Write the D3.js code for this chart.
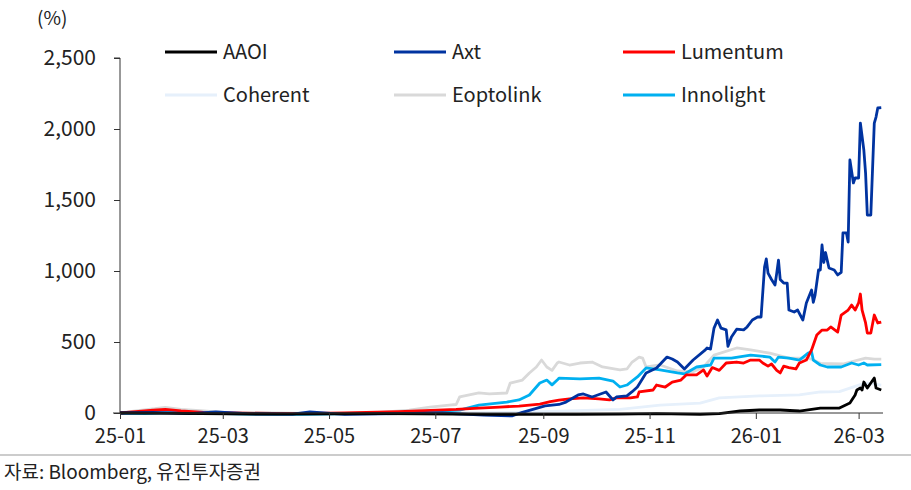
<!DOCTYPE html>
<html>
<head>
<meta charset="utf-8">
<script src="https://cdn.jsdelivr.net/npm/d3@7"></script>
<style>
  body { margin: 0; background: #fff; }
  text { font-family: "Noto Sans CJK KR", "Noto Sans", sans-serif; fill: #222; }
</style>
</head>
<body>
<script>
// index (%) series, [date, value]
var aaoi = [["2025-01-01",0],["2025-02-01",-3],["2025-04-01",-8],["2025-06-01",-5],["2025-08-01",-10],["2025-09-20",-10],["2025-10-15",-8],["2025-11-05",-5],["2025-11-30",-10],["2025-12-11",-5],["2025-12-23",14],["2026-01-03",21],["2026-01-15",21],["2026-01-26",14],["2026-02-07",35],["2026-02-18",35],["2026-02-24",70],["2026-02-27",127],["2026-02-28",162],["2026-03-02",176],["2026-03-03",162],["2026-03-04",218],["2026-03-06",176],["2026-03-08",211],["2026-03-10",246],["2026-03-11",176],["2026-03-14",162]];

var axt = [["2025-01-01",0],["2025-01-20",5],["2025-02-10",-5],["2025-02-25",8],["2025-03-15",-5],["2025-04-10",-8],["2025-04-20",8],["2025-05-10",-10],["2025-06-10",-5],["2025-07-05",0],["2025-07-20",-10],["2025-07-29",-15],["2025-08-14",-20],["2025-08-20",5],["2025-09-02",50],["2025-09-10",60],["2025-09-14",77],["2025-09-21",127],["2025-09-24",134],["2025-09-29",113],["2025-10-07",148],["2025-10-09",120],["2025-10-11",92],["2025-10-13",113],["2025-10-19",120],["2025-10-22",150],["2025-10-25",183],["2025-10-30",282],["2025-11-05",317],["2025-11-11",394],["2025-11-14",380],["2025-11-17",359],["2025-11-21",310],["2025-11-26",373],["2025-12-03",444],["2025-12-04",458],["2025-12-06",450],["2025-12-08",598],["2025-12-10",655],["2025-12-12",598],["2025-12-15",585],["2025-12-16",470],["2025-12-18",535],["2025-12-21",590],["2025-12-25",585],["2025-12-27",606],["2025-12-30",655],["2026-01-02",676],["2026-01-04",676],["2026-01-06",1028],["2026-01-07",1085],["2026-01-08",985],["2026-01-10",940],["2026-01-12",901],["2026-01-13",985],["2026-01-14",1077],["2026-01-15",940],["2026-01-17",915],["2026-01-19",915],["2026-01-20",725],["2026-01-23",711],["2026-01-25",725],["2026-01-28",655],["2026-01-30",775],["2026-02-02",866],["2026-02-03",780],["2026-02-04",830],["2026-02-06",1007],["2026-02-07",1007],["2026-02-08",1183],["2026-02-09",1060],["2026-02-10",1130],["2026-02-12",1021],["2026-02-15",1007],["2026-02-17",972],["2026-02-19",990],["2026-02-20",1268],["2026-02-22",1268],["2026-02-23",1204],["2026-02-24",1782],["2026-02-26",1620],["2026-02-27",1655],["2026-03-01",1655],["2026-03-02",2042],["2026-03-04",1852],["2026-03-05",1690],["2026-03-06",1394],["2026-03-08",1394],["2026-03-10",2042],["2026-03-11",2084],["2026-03-12",2148],["2026-03-14",2150]];

var lumentum = [["2025-01-01",0],["2025-01-10",10],["2025-01-20",20],["2025-01-27",25],["2025-02-05",15],["2025-02-18",5],["2025-03-05",0],["2025-04-10",-5],["2025-05-10",0],["2025-06-10",10],["2025-07-13",25],["2025-07-26",35],["2025-08-07",42],["2025-08-18",49],["2025-08-30",63],["2025-09-05",80],["2025-09-10",90],["2025-09-16",99],["2025-09-24",106],["2025-10-03",100],["2025-10-09",92],["2025-10-13",106],["2025-10-21",106],["2025-10-25",113],["2025-10-26",148],["2025-11-03",162],["2025-11-05",197],["2025-11-10",183],["2025-11-14",218],["2025-11-19",232],["2025-11-22",268],["2025-11-28",268],["2025-12-02",303],["2025-12-04",260],["2025-12-07",320],["2025-12-11",300],["2025-12-15",352],["2025-12-21",359],["2025-12-25",352],["2025-12-29",373],["2026-01-03",373],["2026-01-05",352],["2026-01-08",330],["2026-01-10",345],["2026-01-13",300],["2026-01-15",282],["2026-01-17",330],["2026-01-20",320],["2026-01-24",310],["2026-01-26",352],["2026-01-30",373],["2026-02-02",444],["2026-02-05",549],["2026-02-08",584],["2026-02-11",584],["2026-02-13",606],["2026-02-17",570],["2026-02-19",690],["2026-02-23",725],["2026-02-25",760],["2026-02-27",725],["2026-03-01",775],["2026-03-02",838],["2026-03-03",725],["2026-03-05",634],["2026-03-06",563],["2026-03-08",563],["2026-03-10",690],["2026-03-12",634],["2026-03-14",640]];

var coherent = [["2025-01-01",0],["2025-02-01",5],["2025-03-01",0],["2025-05-01",-5],["2025-07-01",0],["2025-08-15",5],["2025-09-15",15],["2025-10-15",25],["2025-11-07",56],["2025-11-30",70],["2025-12-11",106],["2026-01-03",120],["2026-01-26",127],["2026-02-07",148],["2026-02-18",150],["2026-03-02",200],["2026-03-06",211],["2026-03-14",197]];

var eoptolink = [["2025-01-01",0],["2025-01-10",15],["2025-01-21",30],["2025-01-27",40],["2025-02-05",25],["2025-02-18",15],["2025-03-01",5],["2025-04-01",0],["2025-05-01",-5],["2025-05-30",5],["2025-06-16",20],["2025-06-28",42],["2025-07-09",56],["2025-07-13",60],["2025-07-15",113],["2025-07-26",141],["2025-08-01",134],["2025-08-11",141],["2025-08-13",211],["2025-08-20",232],["2025-08-24",282],["2025-08-28",324],["2025-08-31",373],["2025-09-03",324],["2025-09-06",300],["2025-09-09",352],["2025-09-10",359],["2025-09-16",338],["2025-09-22",352],["2025-09-29",359],["2025-10-05",324],["2025-10-15",303],["2025-10-19",310],["2025-10-22",359],["2025-10-26",394],["2025-10-28",387],["2025-10-30",324],["2025-11-07",338],["2025-11-17",296],["2025-11-26",290],["2025-12-02",324],["2025-12-08",408],["2025-12-21",458],["2025-12-29",444],["2026-01-09",422],["2026-01-20",387],["2026-01-31",387],["2026-02-03",373],["2026-02-07",350],["2026-02-20",345],["2026-03-05",387],["2026-03-10",380],["2026-03-14",380]];

var innolight = [["2025-01-01",0],["2025-01-15",-5],["2025-02-01",5],["2025-02-18",0],["2025-03-15",-8],["2025-04-15",-10],["2025-05-15",-5],["2025-06-10",0],["2025-07-15",20],["2025-07-26",56],["2025-08-11",77],["2025-08-18",92],["2025-08-24",127],["2025-08-30",211],["2025-09-03",232],["2025-09-06",198],["2025-09-09",232],["2025-09-10",246],["2025-09-22",240],["2025-10-03",246],["2025-10-11",225],["2025-10-15",183],["2025-10-19",197],["2025-10-25",254],["2025-10-30",317],["2025-11-07",303],["2025-11-17",282],["2025-11-21",275],["2025-11-28",324],["2025-12-06",338],["2025-12-08",387],["2025-12-18",387],["2025-12-29",408],["2026-01-09",394],["2026-01-12",359],["2026-01-14",394],["2026-01-20",387],["2026-01-26",373],["2026-01-31",422],["2026-02-02",430],["2026-02-03",373],["2026-02-07",338],["2026-02-11",324],["2026-02-19",324],["2026-02-25",352],["2026-03-01",338],["2026-03-04",352],["2026-03-06",338],["2026-03-14",340]];

var yTicks = [0, 500, 1000, 1500, 2000, 2500];
var xTicks = ["2025-01-01","2025-03-01","2025-05-01","2025-07-01","2025-09-01","2025-11-01","2026-01-01","2026-03-01"];

var series = [
  {name: "AAOI", color: "#000000", data: aaoi},
  {name: "Axt", color: "#0033a0", data: axt},
  {name: "Lumentum", color: "#ff0000", data: lumentum},
  {name: "Coherent", color: "#e6f0fb", data: coherent},
  {name: "Eoptolink", color: "#d9d9d9", data: eoptolink},
  {name: "Innolight", color: "#00b0f0", data: innolight}
];
var drawOrder = ["Coherent", "Eoptolink", "Innolight", "Lumentum", "Axt", "AAOI"];

var width = 911, height = 490;
var parse = d3.timeParse("%Y-%m-%d");

var svg = d3.select("body").append("svg")
  .attr("width", width)
  .attr("height", height);

var x = d3.scaleTime()
  .domain([parse("2025-01-01"), parse("2026-03-15")])
  .range([120, 883]);
var y = d3.scaleLinear()
  .domain([0, 2500])
  .range([413, 58]);

// y axis
var yAxis = d3.axisLeft(y)
  .tickValues(yTicks)
  .tickSize(6)
  .tickPadding(18)
  .tickFormat(d3.format(","));
var gy = svg.append("g").attr("transform", "translate(120,0)").call(yAxis);
gy.select(".domain").attr("stroke", "#333").attr("d", "M-6,58H0V413");
gy.selectAll(".tick line").attr("stroke", "#333");
gy.selectAll(".tick text").attr("font-size", 21).attr("fill", "#222")
  .style("font-family", '"Noto Sans CJK KR", sans-serif');

// lines
var line = d3.line()
  .x(function (d) { return x(parse(d[0])); })
  .y(function (d) { return y(d[1]); });

drawOrder.forEach(function (n) {
  var s = series.find(function (d) { return d.name === n; });
  svg.append("path")
    .datum(s.data)
    .attr("fill", "none")
    .attr("stroke", s.color)
    .attr("stroke-width", 2.8)
    .attr("stroke-linejoin", "round")
    .attr("d", line);
});

// x axis
var xAxis = d3.axisBottom(x)
  .tickValues(xTicks.map(parse))
  .tickSize(6)
  .tickPadding(10)
  .tickFormat(d3.timeFormat("%y-%m"));
var gx = svg.append("g").attr("transform", "translate(0,413)").call(xAxis);
gx.select(".domain").attr("stroke", "#333").attr("d", "M113,0H883");
gx.selectAll(".tick line").attr("stroke", "#333");
gx.selectAll(".tick text").attr("font-size", 20).attr("fill", "#222")
  .style("font-family", '"Noto Sans CJK KR", sans-serif');

// unit label
svg.append("text").attr("x", 37).attr("y", 25).attr("font-size", 19).text("(%)");

// legend
var legend = svg.append("g");
series.forEach(function (s, i) {
  var col = i % 3, row = Math.floor(i / 3);
  var lx = 165 + col * 229, ly = 52 + row * 43;
  legend.append("line")
    .attr("x1", lx).attr("x2", lx + 52)
    .attr("y1", ly).attr("y2", ly)
    .attr("stroke", s.color).attr("stroke-width", 2.8);
  legend.append("text")
    .attr("x", lx + 58).attr("y", ly + 7)
    .attr("font-size", 20)
    .text(s.name);
});

// source
svg.append("line")
  .attr("x1", 0).attr("x2", width)
  .attr("y1", 455).attr("y2", 455)
  .attr("stroke", "#bbbbbb").attr("stroke-width", 1.5);
svg.append("text").attr("x", 4).attr("y", 479).attr("font-size", 19)
  .attr("textLength", 257).attr("lengthAdjust", "spacingAndGlyphs")
  .text("자료: Bloomberg, 유진투자증권");
</script>
</body>
</html>
